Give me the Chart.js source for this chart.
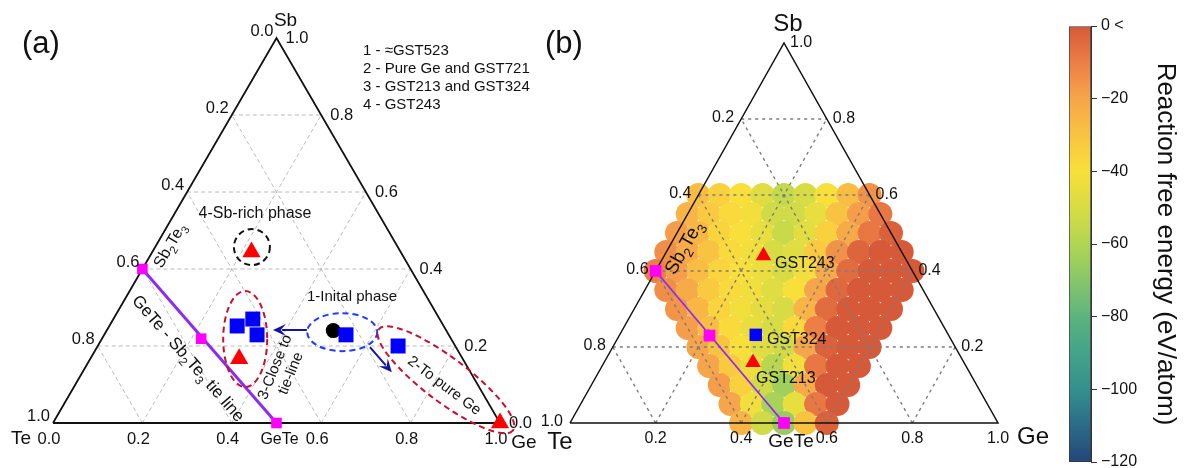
<!DOCTYPE html>
<html>
<head>
<meta charset="utf-8">
<title>GST ternary reaction map</title>
<script src="https://cdn.jsdelivr.net/npm/chart.js@4.4.1/dist/chart.umd.min.js"></script>
<style>
  html, body { margin: 0; background: #fff; }
  #wrap { position: relative; width: 1184px; height: 468px; overflow: hidden; }
  #wrap canvas { position: absolute; top: 0; }
  #tern { left: 0; }
  #cbar { left: 1040px; }
</style>
</head>
<body>
<div id="wrap">
  <canvas id="tern" width="1184" height="468"></canvas>
  <canvas id="cbar" width="144" height="468"></canvas>
</div>
<script>
// compositions are [Ge, Sb] fractions, Te = 1 - Ge - Sb
const tickVals = [0, 0.2, 0.4, 0.6, 0.8, 1.0];
const tickText = ['0.0', '0.2', '0.4', '0.6', '0.8', '1.0'];
const gridVals = [0.2, 0.4, 0.6, 0.8];

// panel (a)
const tieGeA = [0, 0.222, 0.5];          // Sb2Te3, GST225, GeTe
const tieSbA = [0.4, 0.219, 0];
const squareGeA = [0.286, 0.312, 0.342, 0.541, 0.672];
const squareSbA = [0.252, 0.270, 0.229, 0.229, 0.200];
const triGeA = [0.333, 0.222, 1.0];
const triSbA = [0.167, 0.444, 0.0];
const dotGeA = [0.507];
const dotSbA = [0.240];
const legendA = ['1 - \u2248GST523', '2 - Pure Ge and GST721', '3 - GST213 and GST324', '4 - GST243'];

// panel (b)
const tieGeB = [0, 0.211, 0.5];
const tieSbB = [0.4, 0.230, 0];
const gstNames = ['GST243', 'GST324', 'GST213'];
const gstGe = [0.232, 0.318, 0.348];
const gstSb = [0.440, 0.232, 0.159];
const gstShape = ['triangle', 'rect', 'triangle'];

// reaction free energy (eV/atom), one row per Sb level, Ge rising in 0.05 steps
const heatSb = [0.60, 0.55, 0.50, 0.45, 0.40, 0.35, 0.30, 0.25, 0.20, 0.15, 0.10, 0.05, 0.00];
const heatGeFrom = [0, 0, 0, 0, 0, 0.05, 0.10, 0.15, 0.20, 0.25, 0.30, 0.35, 0.40];
const heatGeStep = 0.05;
const heatEnergy = [
  [-28, -35, -40, -48, -55, -50, -40, -28, -15],
  [-25, -32, -38, -42, -52, -52, -45, -30, -18, -8],
  [-18, -26, -36, -40, -45, -54, -47, -35, -22, -8, -2],
  [-14, -22, -30, -38, -42, -50, -48, -32, -15, -3, 0, 0],
  [-10, -18, -28, -36, -40, -44, -50, -42, -22, -5, 0, 0, 0],
  [-14, -22, -32, -38, -42, -48, -40, -20, -4, 0, 0, 0],
  [-16, -26, -36, -42, -46, -50, -25, -5, 0, 0, 0],
  [-18, -28, -38, -45, -50, -38, -10, 0, 0, 0],
  [-20, -30, -40, -48, -52, -20, -2, 0, 0],
  [-20, -32, -44, -58, -42, -8, 0, 0],
  [-18, -35, -52, -64, -22, 0, 0],
  [-20, -42, -62, -45, -8, 0],
  [-25, -52, -66, -30, -2]
];

// colour bar
const cbarMin = -120, cbarMax = 0, cbarStep = 20;
const cbarTitle = 'Reaction free energy (eV/atom)';

// ---- styling ----
const FONT = '"Liberation Sans", Arial, sans-serif';
Chart.defaults.font.family = FONT;
const cmapStops = [-120, -110, -100, -90, -80, -70, -60, -50, -40, -30, -20, -10, 0];
const cmapColors = ['#25457a', '#2c6b88', '#33908d', '#43a38a', '#5db37e', '#87c66a', '#b1d553',
                    '#d8dc44', '#f9df3a', '#f9c342', '#f7a54a', '#ec7e46', '#d65a39'];
const W = 1184, H = 468;
const frameA = { left: 53, right: 500, base: 423, apex: 38 };
const frameB = { left: 570, right: 998, base: 423, apex: 43 };

function hexRgb(h) { return [1, 3, 5].map(i => parseInt(h.substr(i, 2), 16)); }
function cmap(v) {
  v = Math.max(cmapStops[0], Math.min(cmapStops[cmapStops.length - 1], v));
  let i = 0;
  while (i < cmapStops.length - 2 && v > cmapStops[i + 1]) i++;
  const t = (v - cmapStops[i]) / (cmapStops[i + 1] - cmapStops[i]);
  const a = hexRgb(cmapColors[i]), b = hexRgb(cmapColors[i + 1]);
  return 'rgb(' + a.map((c, k) => Math.round(c + (b[k] - c) * t)).join(',') + ')';
}

function axes(f) {
  const kx = f.right - f.left, ky = f.base - f.apex;
  const x = { type: 'linear', display: false, bounds: 'data', min: -f.left / kx, max: (W - f.left) / kx };
  const y = { type: 'linear', display: false, bounds: 'data', min: -(H - f.base) / ky, max: f.base / ky };
  return [x, y];
}
const [xa, ya] = axes(frameA);
const [xb, yb] = axes(frameB);

const tern = (ge, sb) => ({ x: ge + sb / 2, y: sb });
function lineSet(p, pts, color, width, dash, order) {
  return { xAxisID: 'x' + p, yAxisID: 'y' + p, data: pts.map(q => tern(q[0], q[1])), showLine: true,
    pointRadius: 0, borderColor: color, borderWidth: width, borderDash: dash, borderJoinStyle: 'miter',
    fill: false, order };
}
function markSet(p, ges, sbs, style, radius, color, order) {
  return { xAxisID: 'x' + p, yAxisID: 'y' + p, data: ges.map((g, i) => tern(g, sbs[i])),
    pointStyle: style, pointRadius: radius, backgroundColor: color, borderWidth: 0, order };
}

const datasets = [];
// grid lines
[['a', '#b2b2b2', 0.9, [4, 3]], ['b', '#7c7c7c', 1.4, [3, 4]]].forEach(([p, col, w, dash]) => {
  gridVals.forEach(t => {
    datasets.push(lineSet(p, [[0, t], [1 - t, t]], col, w, dash, 60));        // Sb = t
    datasets.push(lineSet(p, [[t, 0], [t, 1 - t]], col, w, dash, 60));        // Ge = t
    datasets.push(lineSet(p, [[1 - t, 0], [0, 1 - t]], col, w, dash, 60));    // Te = t
  });
  datasets.push(lineSet(p, [[0, 0], [1, 0], [0, 1], [0, 0]], '#111', p === 'a' ? 1.8 : 1.5, [], 50));
});

// heat map dots
const heatPts = [], heatCols = [];
heatSb.forEach((s, r) => heatEnergy[r].forEach((e, i) => {
  heatPts.push(tern(heatGeFrom[r] + i * heatGeStep, s));
  heatCols.push(cmap(e));
}));
datasets.push({ xAxisID: 'xb', yAxisID: 'yb', data: heatPts, pointStyle: 'circle', pointRadius: 12,
  backgroundColor: heatCols, borderWidth: 0, order: 100 });

// tie lines
datasets.push(lineSet('a', [[tieGeA[0], tieSbA[0]], [tieGeA[2], tieSbA[2]]], '#8b2cf0', 3, [], 30));
datasets.push(lineSet('b', [[tieGeB[0], tieSbB[0]], [tieGeB[2], tieSbB[2]]], '#8b2cf0', 1.8, [], 30));
datasets.push(markSet('a', tieGeA, tieSbA, 'rect', 7.5, '#ff00ff', 20));
datasets.push(markSet('b', tieGeB, tieSbB, 'rect', 8.3, '#ff00ff', 20));

// markers
datasets.push(markSet('a', squareGeA, squareSbA, 'rect', 10.6, '#0000ff', 10));
datasets.push(markSet('a', triGeA, triSbA, 'triangle', 10.5, '#ff0000', 10));
datasets.push(markSet('a', dotGeA, dotSbA, 'circle', 7.5, '#000000', 10));
gstNames.forEach((n, i) => {
  datasets.push(markSet('b', [gstGe[i]], [gstSb[i]], gstShape[i], gstShape[i] === 'rect' ? 8.8 : 9,
    gstShape[i] === 'rect' ? '#0000ff' : '#ff0000', 10));
});

// ---- text helpers ----
function say(ctx, parts, x, y, size, o = {}) {
  if (typeof parts === 'string') parts = [[parts, 0]];
  ctx.save();
  ctx.translate(x, y);
  ctx.rotate((o.rot || 0) * Math.PI / 180);
  const fonts = parts.map(q => (q[1] ? size * 0.7 : size) + 'px ' + FONT);
  const widths = parts.map((q, i) => { ctx.font = fonts[i]; return ctx.measureText(q[0]).width; });
  const total = widths.reduce((a, b) => a + b, 0);
  let cx = o.align === 'left' ? 0 : o.align === 'right' ? -total : -total / 2;
  ctx.textAlign = 'left';
  ctx.textBaseline = 'alphabetic';
  ctx.fillStyle = o.color || '#111';
  const base = size * 0.36 + (o.dy || 0);
  parts.forEach((q, i) => {
    ctx.font = fonts[i];
    ctx.fillText(q[0], cx, base + (q[1] ? size * 0.28 : 0));
    cx += widths[i];
  });
  ctx.restore();
}

function arrow(ctx, a, b, color) {
  const ang = Math.atan2(b.y - a.y, b.x - a.x), L = 13, hw = 6;
  const c = Math.cos(ang), s = Math.sin(ang);
  ctx.save();
  ctx.strokeStyle = color; ctx.fillStyle = color; ctx.lineWidth = 2;
  ctx.beginPath(); ctx.moveTo(a.x, a.y); ctx.lineTo(b.x - L * 0.7 * c, b.y - L * 0.7 * s); ctx.stroke();
  ctx.beginPath();
  ctx.moveTo(b.x, b.y);
  ctx.lineTo(b.x - L * c + hw * s, b.y - L * s - hw * c);
  ctx.lineTo(b.x - L * 0.6 * c, b.y - L * 0.6 * s);
  ctx.lineTo(b.x - L * c - hw * s, b.y - L * s + hw * c);
  ctx.closePath(); ctx.fill();
  ctx.restore();
}

const ellipsesA = [
  { at: [0.445, 0.457], rx: 18, ry: 18, rot: 0, color: '#111111' },
  { at: [0.430, 0.218], rx: 22, ry: 48, rot: 0, color: '#c8102e' },
  { at: [0.647, 0.236], rx: 35, ry: 19, rot: 0, color: '#1e3cff' },
  { at: [0.879, 0.112], rx: 84, ry: 22, rot: 37, color: '#c8102e' }
];
const arrowsA = [
  [[0.568, 0.2416], [0.492, 0.2416]],
  [[0.709, 0.197], [0.758, 0.132]]
];

const decor = {
  id: 'decor',
  afterDatasetsDraw(chart) {
    const ctx = chart.ctx;
    const P = (p, xv, yv) => ({ x: chart.scales['x' + p].getPixelForValue(xv), y: chart.scales['y' + p].getPixelForValue(yv) });
    const C = (p, ge, sb) => P(p, ge + sb / 2, sb);

    // tick labels on the three edges
    const edgeTicks = (p, from, size, l, r, b) => {
      tickVals.forEach((v, i) => {
        if (v < from - 1e-9) return;
        let q = C(p, 0, 1 - v);
        say(ctx, tickText[i], q.x + l[0], q.y + l[1], size, { align: 'right' });
        q = C(p, 1 - v, v);
        say(ctx, tickText[i], q.x + r[0], q.y + r[1], size, { align: 'left' });
        q = C(p, v, 0);
        say(ctx, tickText[i], q.x + b[0], q.y + b[1], size);
      });
    };
    edgeTicks('a', 0, 16.5, [-3, -8], [9, -1], [-4, 15]);
    edgeTicks('b', 0.2, 16, [-7, -3], [6, -2], [0, 14]);

    // vertex names
    let q = C('a', 0, 1); say(ctx, 'Sb', q.x + 9, q.y - 19, 19);
    q = C('a', 0, 0); say(ctx, 'Te', q.x - 32, q.y + 14, 19);
    q = C('a', 1, 0); say(ctx, 'Ge', q.x + 24, q.y + 18, 19);
    q = C('a', 0.5, 0); say(ctx, 'GeTe', q.x + 3, q.y + 15, 16);
    q = C('b', 0, 1); say(ctx, 'Sb', q.x + 4, q.y - 21, 24);
    q = C('b', 0, 0); say(ctx, 'Te', q.x - 10, q.y + 17, 24);
    q = C('b', 1, 0); say(ctx, 'Ge', q.x + 35, q.y + 12, 24);
    q = C('b', 0.5, 0); say(ctx, 'GeTe', q.x + 7, q.y + 17, 19);

    say(ctx, '(a)', 22, 42, 31, { align: 'left' });
    say(ctx, '(b)', 545, 42, 31, { align: 'left' });

    // panel (a) annotations
    ellipsesA.forEach(e => {
      const c = P('a', e.at[0], e.at[1]);
      ctx.save();
      ctx.strokeStyle = e.color; ctx.lineWidth = 2; ctx.setLineDash([6, 4]);
      ctx.beginPath(); ctx.ellipse(c.x, c.y, e.rx, e.ry, e.rot * Math.PI / 180, 0, 2 * Math.PI); ctx.stroke();
      ctx.restore();
    });
    arrowsA.forEach(([f, t]) => arrow(ctx, P('a', f[0], f[1]), P('a', t[0], t[1]), '#1414a0'));

    q = P('a', 0.6935, 0.9688);
    legendA.forEach((t, i) => say(ctx, t, q.x, q.y + i * 18, 15, { align: 'left' }));

    q = P('a', 0.452, 0.548); say(ctx, '4-Sb-rich phase', q.x, q.y, 16);
    q = P('a', 0.669, 0.332); say(ctx, '1-Inital phase', q.x, q.y, 15);
    q = P('a', 0.877, 0.099); say(ctx, '2-To pure Ge', q.x, q.y, 15, { rot: 37 });
    q = P('a', 0.512, 0.138);
    say(ctx, '3-Close to', q.x, q.y, 15, { rot: -68, dy: -8.5 });
    say(ctx, 'tie-line', q.x, q.y, 15, { rot: -68, dy: 8.5 });

    const ta = C('a', tieGeA[0], tieSbA[0]), tb = C('a', tieGeA[2], tieSbA[2]);
    const tieAng = Math.atan2(tb.y - ta.y, tb.x - ta.x) * 180 / Math.PI;
    q = P('a', 0.304, 0.169);
    say(ctx, [['GeTe - Sb', 0], ['2', 1], ['Te', 0], ['3', 1], [' tie line', 0]], q.x, q.y, 17, { rot: tieAng });

    const ea = C('a', 0, 0), eb = C('a', 0, 1);
    q = P('a', 0.2595, 0.4623);
    say(ctx, [['Sb', 0], ['2', 1], ['Te', 0], ['3', 1]], q.x, q.y, 16,
      { rot: Math.atan2(eb.y - ea.y, eb.x - ea.x) * 180 / Math.PI });

    // panel (b) annotations
    const fa = C('b', 0, 0), fb = C('b', 0, 1);
    q = P('b', 0.264, 0.463);
    say(ctx, [['Sb', 0], ['2', 1], ['Te', 0], ['3', 1]], q.x, q.y, 19,
      { rot: Math.atan2(fb.y - fa.y, fb.x - fa.x) * 180 / Math.PI });
    const gstAt = [[0.479, 0.4237], [0.460, 0.2237], [0.4346, 0.121]];
    gstNames.forEach((n, i) => { const g = P('b', gstAt[i][0], gstAt[i][1]); say(ctx, n, g.x, g.y, 16, { align: 'left' }); });
  }
};

new Chart(document.getElementById('tern'), {
  type: 'scatter',
  data: { datasets },
  options: {
    responsive: false,
    animation: false,
    events: [],
    layout: { autoPadding: false, padding: 0 },
    plugins: { legend: { display: false }, tooltip: { enabled: false } },
    scales: {
      x: { display: false }, y: { display: false },
      xa, ya, xb, yb
    }
  },
  plugins: [decor]
});

// colour bar
new Chart(document.getElementById('cbar'), {
  type: 'bar',
  data: {
    labels: [''],
    datasets: [{
      data: [[cbarMin, cbarMax]],
      backgroundColor(c) {
        const area = c.chart.chartArea;
        if (!area) return cmapColors[cmapColors.length - 1];
        const g = c.chart.ctx.createLinearGradient(0, area.bottom, 0, area.top);
        cmapStops.forEach((v, i) => g.addColorStop((v - cbarMin) / (cbarMax - cbarMin), cmapColors[i]));
        return g;
      },
      borderColor: '#3a3a3a',
      borderWidth: 1,
      borderSkipped: false,
      barPercentage: 1,
      categoryPercentage: 1
    }]
  },
  options: {
    responsive: false,
    animation: false,
    events: [],
    layout: { autoPadding: false, padding: { left: 29, right: 0, top: 26, bottom: 6 } },
    plugins: { legend: { display: false }, tooltip: { enabled: false } },
    scales: {
      x: { display: false },
      y: {
        position: 'right',
        min: cbarMin, max: cbarMax,
        ticks: {
          stepSize: cbarStep,
          padding: 4,
          color: '#111',
          font: { size: 16 },
          callback: v => v === 0 ? '0 <' : String(v).replace('-', '\u2212')
        },
        grid: { drawOnChartArea: false, drawTicks: true, tickLength: 6, color: '#333', lineWidth: 1 },
        border: { display: true, color: '#333' },
        title: { display: true, text: cbarTitle, color: '#111', font: { size: 26 }, padding: { top: 3, bottom: 0 } },
        afterFit(s) { s.width = 93; s.paddingTop = 0; s.paddingBottom = 0; }
      }
    }
  }
});
</script>
</body>
</html>
